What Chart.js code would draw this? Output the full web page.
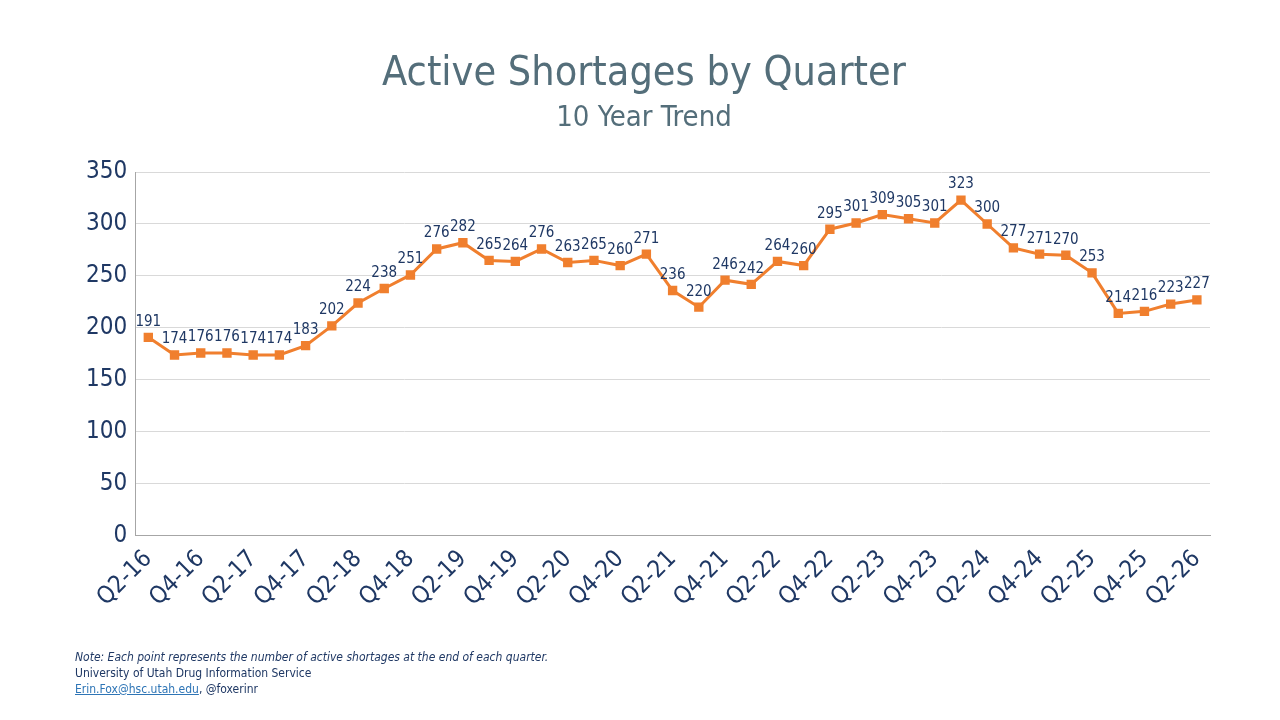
<!DOCTYPE html>
<html>
<head>
<meta charset="utf-8">
<script src="https://cdn.jsdelivr.net/npm/chart.js@4/dist/chart.umd.min.js"></script>
<style>
  body { margin: 0; background: #fff; }
  #wrap { position: relative; width: 1280px; height: 720px; }
  #note { position: absolute; left: 75px; top: 649px; font: 12px "Liberation Sans Narrow", "DejaVu Sans Condensed", sans-serif; color: #1F3864; line-height: 16px; }
  #note a { color: #2E75B6; }
</style>
</head>
<body>
<div id="wrap">
  <canvas id="chart" width="1280" height="720"></canvas>
  <div id="note">
    <i>Note: Each point represents the number of active shortages at the end of each quarter.</i><br>
    University of Utah Drug Information Service<br>
    <a href="#">Erin.Fox@hsc.utah.edu</a>, @foxerinr
  </div>
</div>
<script>
const quarters = ['Q2-16','Q3-16','Q4-16','Q1-17','Q2-17','Q3-17','Q4-17','Q1-18','Q2-18','Q3-18','Q4-18',
  'Q1-19','Q2-19','Q3-19','Q4-19','Q1-20','Q2-20','Q3-20','Q4-20','Q1-21','Q2-21','Q3-21','Q4-21',
  'Q1-22','Q2-22','Q3-22','Q4-22','Q1-23','Q2-23','Q3-23','Q4-23','Q1-24','Q2-24','Q3-24','Q4-24',
  'Q1-25','Q2-25','Q3-25','Q4-25','Q1-26','Q2-26'];
const shortages = [191,174,176,176,174,174,183,202,224,238,251,276,282,265,264,276,263,265,260,271,236,220,246,
  242,264,260,295,301,309,305,301,323,300,277,271,270,253,214,216,223,227];

const fontFam = '"Liberation Sans Narrow", "DejaVu Sans Condensed", sans-serif';
const navy = '#1F3864';

const pointLabels = {
  id: 'pointLabels',
  afterDatasetsDraw(chart) {
    const ctx = chart.ctx;
    const meta = chart.getDatasetMeta(0);
    ctx.save();
    ctx.font = '15px ' + fontFam;
    ctx.fillStyle = navy;
    ctx.textAlign = 'center';
    ctx.textBaseline = 'bottom';
    meta.data.forEach((pt, i) => {
      ctx.fillText(String(shortages[i]), pt.x, pt.y - 8);
    });
    ctx.restore();
  }
};

new Chart(document.getElementById('chart'), {
  type: 'line',
  data: {
    labels: quarters,
    datasets: [{
      data: shortages,
      borderColor: '#F07F2E',
      backgroundColor: '#F07F2E',
      borderWidth: 3,
      pointStyle: 'rect',
      pointRadius: 4.5,
      tension: 0
    }]
  },
  options: {
    responsive: false,
    animation: false,
    layout: { padding: { left: 78, right: 70, top: 50, bottom: 105 } },
    plugins: {
      legend: { display: false },
      tooltip: { enabled: false },
      title: { display: true, text: 'Active Shortages by Quarter', color: '#546E7A',
        font: { family: fontFam, size: 41, weight: 'normal' }, padding: { top: 0, bottom: 0 } },
      subtitle: { display: true, text: '10 Year Trend', color: '#546E7A',
        font: { family: fontFam, size: 29 }, padding: { top: 2, bottom: 36 } }
    },
    scales: {
      y: {
        min: 0, max: 350,
        ticks: { stepSize: 50, color: navy, font: { family: fontFam, size: 24 }, padding: 8 },
        grid: { color: '#D9D9D9', drawTicks: false },
        border: { color: '#A6A6A6' }
      },
      x: {
        offset: true,
        ticks: { autoSkip: false, maxRotation: 45, minRotation: 45, color: navy,
          font: { family: fontFam, size: 24 },
          callback: (v, i) => i % 2 === 0 ? quarters[i] : '' },
        grid: { display: false, drawTicks: true, tickLength: 6, color: '#A6A6A6' },
        border: { color: '#A6A6A6' }
      }
    }
  },
  plugins: [pointLabels]
});
</script>
</body>
</html>
